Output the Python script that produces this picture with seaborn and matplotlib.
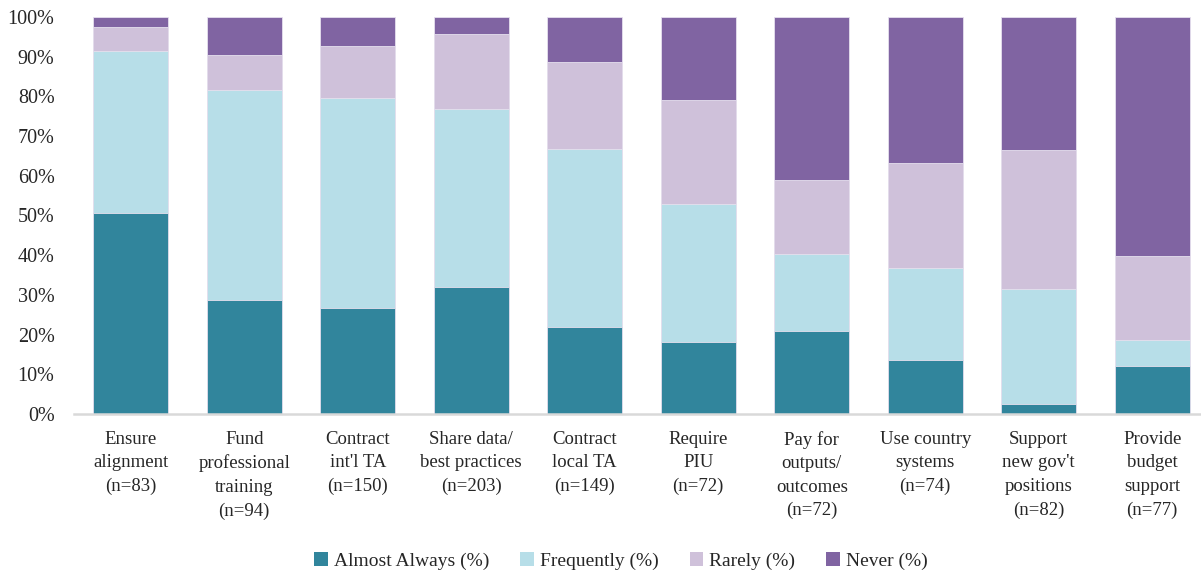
import numpy as np
import pandas as pd
import matplotlib
matplotlib.use("Agg")
import matplotlib.pyplot as plt
from matplotlib.patches import Patch
import seaborn as sns

categories = [
    "Ensure\nalignment\n(n=83)",
    "Fund\nprofessional\ntraining\n(n=94)",
    "Contract\nint'l TA\n(n=150)",
    "Share data/\nbest practices\n(n=203)",
    "Contract\nlocal TA\n(n=149)",
    "Require\nPIU\n(n=72)",
    "Pay for\noutputs/\noutcomes\n(n=72)",
    "Use country\nsystems\n(n=74)",
    "Support\nnew gov't\npositions\n(n=82)",
    "Provide\nbudget\nsupport\n(n=77)",
]
almost_always = [50.6, 28.7, 26.7, 32.0, 22.0, 18.1, 20.8, 13.5, 2.4, 12.1]
frequently = [40.8, 52.9, 53.0, 44.8, 44.8, 34.7, 19.4, 23.3, 29.1, 6.6]
rarely = [6.2, 8.9, 13.0, 19.0, 21.8, 26.4, 18.8, 26.4, 35.0, 21.1]
never = [2.4, 9.5, 7.3, 4.2, 11.4, 20.8, 41.0, 36.8, 33.5, 60.2]

series_names = ["Almost Always (%)", "Frequently (%)", "Rarely (%)", "Never (%)"]
colors = ["#31859C", "#B7DEE8", "#CFC1DA", "#8064A2"]

df = pd.DataFrame({
    "category": categories,
    series_names[0]: almost_always,
    series_names[1]: frequently,
    series_names[2]: rarely,
    series_names[3]: never,
})

# cumulative totals so each stacked segment is drawn as a taller bar behind the one below it
cum = df[series_names].cumsum(axis=1)
cum["category"] = df["category"]

sns.set_theme(style="white")
plt.rcParams["font.family"] = ["Liberation Serif", "DejaVu Serif"]

fig = plt.figure(figsize=(12.01, 5.71), dpi=100)
ax = fig.add_axes([74 / 1201, 157 / 571, 1 - 74 / 1201, 397 / 571])

for name, color in reversed(list(zip(series_names, colors))):
    sns.barplot(data=cum, x="category", y=name,
                color=color, width=0.66, saturation=1, ax=ax,
                edgecolor="#E6E0EE", linewidth=0.6)

ax.set_ylim(0, 100)
ax.set_xlim(-0.5, 9.43)
ax.set_yticks(np.arange(0, 101, 10))
ax.set_yticklabels([f"{v}%" for v in range(0, 101, 10)], fontsize=14.5, color="#262626")
ax.tick_params(axis="y", length=0, pad=14)
ax.tick_params(axis="x", length=0, pad=12)
ax.set_xticks(range(len(categories)))
ax.set_xticklabels(categories, fontsize=13.5, color="#262626", linespacing=1.5, va="top")
ax.set_xlabel("")
ax.set_ylabel("")

for side in ["top", "right", "left"]:
    ax.spines[side].set_visible(False)
ax.spines["bottom"].set_color("#D9D9D9")
ax.spines["bottom"].set_linewidth(1.8)

handles = [Patch(facecolor=c, edgecolor="none") for c in colors]
fig.legend(handles, series_names, loc="center", bbox_to_anchor=(0.517, 10 / 571),
           ncol=4, frameon=False, fontsize=14, handlelength=0.7, handleheight=0.7,
           handletextpad=0.3, columnspacing=1.6, labelcolor="#262626")

fig.savefig("out.png", dpi=100)
